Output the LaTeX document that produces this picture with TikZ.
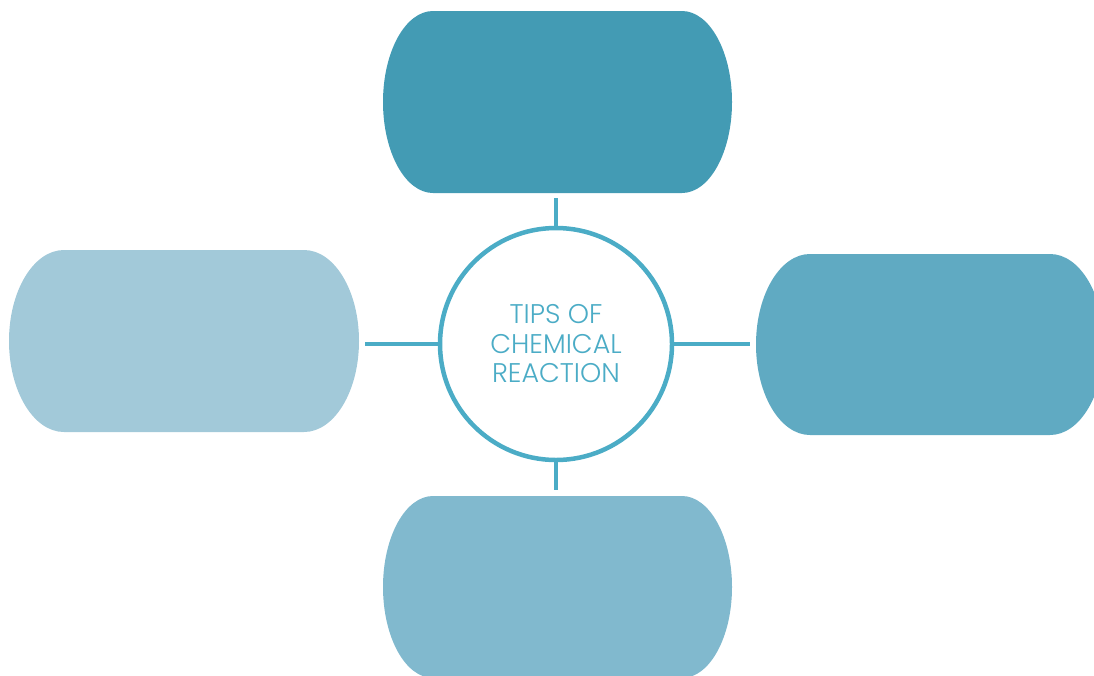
\documentclass[tikz,border=0pt]{standalone}
\usepackage{fontspec}
\newfontfamily\hubfont{Poppins Light}
\definecolor{cTop}{HTML}{439BB4}
\definecolor{cRight}{HTML}{60AAC2}
\definecolor{cBottom}{HTML}{81B9CE}
\definecolor{cLeft}{HTML}{A2C9D9}
\definecolor{cLine}{HTML}{4BACC6}
\newcommand\capsule[6]{% color, x1, y1, x2, y2, rx
  \fill[#1] ({#2+#6},#3) -- ({#4-#6},#3)
    arc[start angle=-90,end angle=90,x radius=#6,y radius={(#5-#3)/2}]
    -- ({#2+#6},#5)
    arc[start angle=90,end angle=270,x radius=#6,y radius={(#5-#3)/2}] -- cycle;}
\begin{document}
\begin{tikzpicture}[x=1pt,y=-1pt,
  link/.style={draw=cLine,line width=4.5pt},
  hub/.style={circle,draw=cLine,line width=4.5pt,fill=white,minimum size=232pt,inner sep=0pt,
    text=cLine,align=center,font=\hubfont\fontsize{27}{29.5}\selectfont}]
\useasboundingbox (0,0) rectangle (1094,675);
\clip (0,0) rectangle (1094,675);
\capsule{cTop}{383}{11}{732}{193}{50}
\capsule{cLeft}{9}{250}{359}{432}{55}
\capsule{cRight}{756}{254}{1104}{435}{54}
\capsule{cBottom}{383}{496}{732}{678}{50}
\node[hub] (c) at (556,344) {TIPS OF\\CHEMICAL\\REACTION};
\coordinate (tEnd) at (556,198);
\coordinate (bEnd) at (556,490);
\coordinate (lEnd) at (365,344);
\coordinate (rEnd) at (750,344);
\draw[link] (c.north) -- (tEnd);
\draw[link] (c.south) -- (bEnd);
\draw[link] (c.west) -- (lEnd);
\draw[link] (c.east) -- (rEnd);
\end{tikzpicture}
\end{document}
